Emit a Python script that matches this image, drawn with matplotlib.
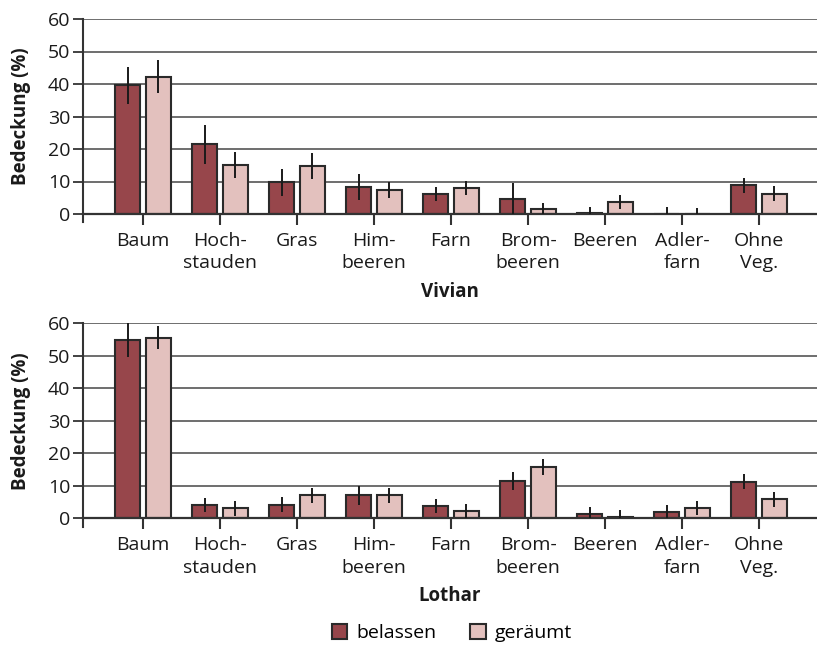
import matplotlib
matplotlib.use("Agg")
import matplotlib.pyplot as plt
import numpy as np
from matplotlib.patches import Patch

plt.rcParams['font.family'] = ['Open Sans', 'DejaVu Sans']

categories = ["Baum", "Hoch-\nstauden", "Gras", "Him-\nbeeren", "Farn",
              "Brom-\nbeeren", "Beeren", "Adler-\nfarn", "Ohne\nVeg."]
series_names = ["belassen", "geräumt"]

vivian_belassen = [39.6, 21.5, 9.7, 8.3, 6.1, 4.7, 0.2, 0.0, 8.8]
vivian_belassen_err = [5.6, 6.0, 4.3, 4.0, 2.2, 4.7, 2.0, 2.1, 2.2]
vivian_geraeumt = [42.3, 15.1, 14.8, 7.3, 8.0, 1.6, 3.6, 0.0, 6.3]
vivian_geraeumt_err = [5.2, 4.1, 3.9, 2.4, 2.1, 1.9, 2.2, 2.0, 2.2]

lothar_belassen = [54.9, 4.1, 4.2, 7.1, 3.8, 11.4, 1.3, 1.9, 11.3]
lothar_belassen_err = [5.4, 2.2, 2.3, 2.9, 2.2, 2.7, 2.2, 2.1, 2.2]
lothar_geraeumt = [55.6, 3.1, 7.1, 7.1, 2.3, 15.8, 0.3, 3.2, 5.8]
lothar_geraeumt_err = [3.5, 2.3, 2.3, 2.3, 2.2, 2.5, 2.4, 2.2, 2.3]

titles = ["Vivian", "Lothar"]
yticks = [0, 10, 20, 30, 40, 50, 60]

c_bel = "#97464B"
c_ger = "#E3C1BE"
edge = "#2a2a2a"

W, H = 817, 647
fig = plt.figure(figsize=(W/100, H/100), dpi=100)

panels = [
    (vivian_belassen, vivian_belassen_err, vivian_geraeumt, vivian_geraeumt_err, 19, 214),
    (lothar_belassen, lothar_belassen_err, lothar_geraeumt, lothar_geraeumt_err, 323.3, 518.3),
]

x = np.arange(len(categories))
bw = 0.325
off = 0.195
for (b, be, g, ge, top, bot), title in zip(panels, titles):
    ax = fig.add_axes([83/W, 1-bot/H, 1-83/W, (bot-top)/H])
    ax.set_xlim(-60/77, 8 + 58/77)
    ax.set_ylim(0, 60)
    ax.set_yticks(yticks)
    ax.yaxis.grid(True, color="#555555", linewidth=1.2)
    ax.set_axisbelow(True)
    ax.bar(x - off, b, bw, color=c_bel, edgecolor=edge, linewidth=1.5, zorder=2)
    ax.bar(x + off, g, bw, color=c_ger, edgecolor=edge, linewidth=1.5, zorder=2)
    ax.errorbar(x - off, b, yerr=be, fmt='none', ecolor="#1a1a1a", elinewidth=1.4, capsize=0, zorder=3)
    ax.errorbar(x + off, g, yerr=ge, fmt='none', ecolor="#1a1a1a", elinewidth=1.4, capsize=0, zorder=3)
    for s in ["top", "right"]:
        ax.spines[s].set_visible(False)
    ax.spines["left"].set_color("#333333")
    ax.spines["left"].set_linewidth(1.5)
    ax.spines["left"].set_bounds(-2.6, 60)
    ax.spines["bottom"].set_color("#333333")
    ax.spines["bottom"].set_linewidth(1.6)
    ax.set_xticks(x)
    ax.set_xticklabels(categories, fontsize=14, color="#1a1a1a", linespacing=1.3)
    ax.tick_params(axis="x", direction="out", length=8, width=1.5, color="#333333", pad=5)
    ax.tick_params(axis="y", direction="out", length=7, width=1.3, color="#333333",
                   labelsize=14, labelcolor="#1a1a1a", pad=2)
    ax.set_ylabel("Bedeckung (%)", fontsize=13.5, fontweight="bold", color="#1a1a1a", labelpad=12)
    ax.set_xlabel(title, fontsize=13.5, fontweight="bold", color="#1a1a1a", labelpad=7)

handles = [Patch(facecolor=c_bel, edgecolor=edge, linewidth=1.5, label=series_names[0]),
           Patch(facecolor=c_ger, edgecolor=edge, linewidth=1.5, label=series_names[1])]
fig.legend(handles=handles, loc="center", bbox_to_anchor=(452/W, 1-633/H), ncol=2,
           frameon=False, fontsize=14, handlelength=0.8, handleheight=0.8,
           columnspacing=1.7, handletextpad=0.5)

fig.savefig("out.png", dpi=100)
